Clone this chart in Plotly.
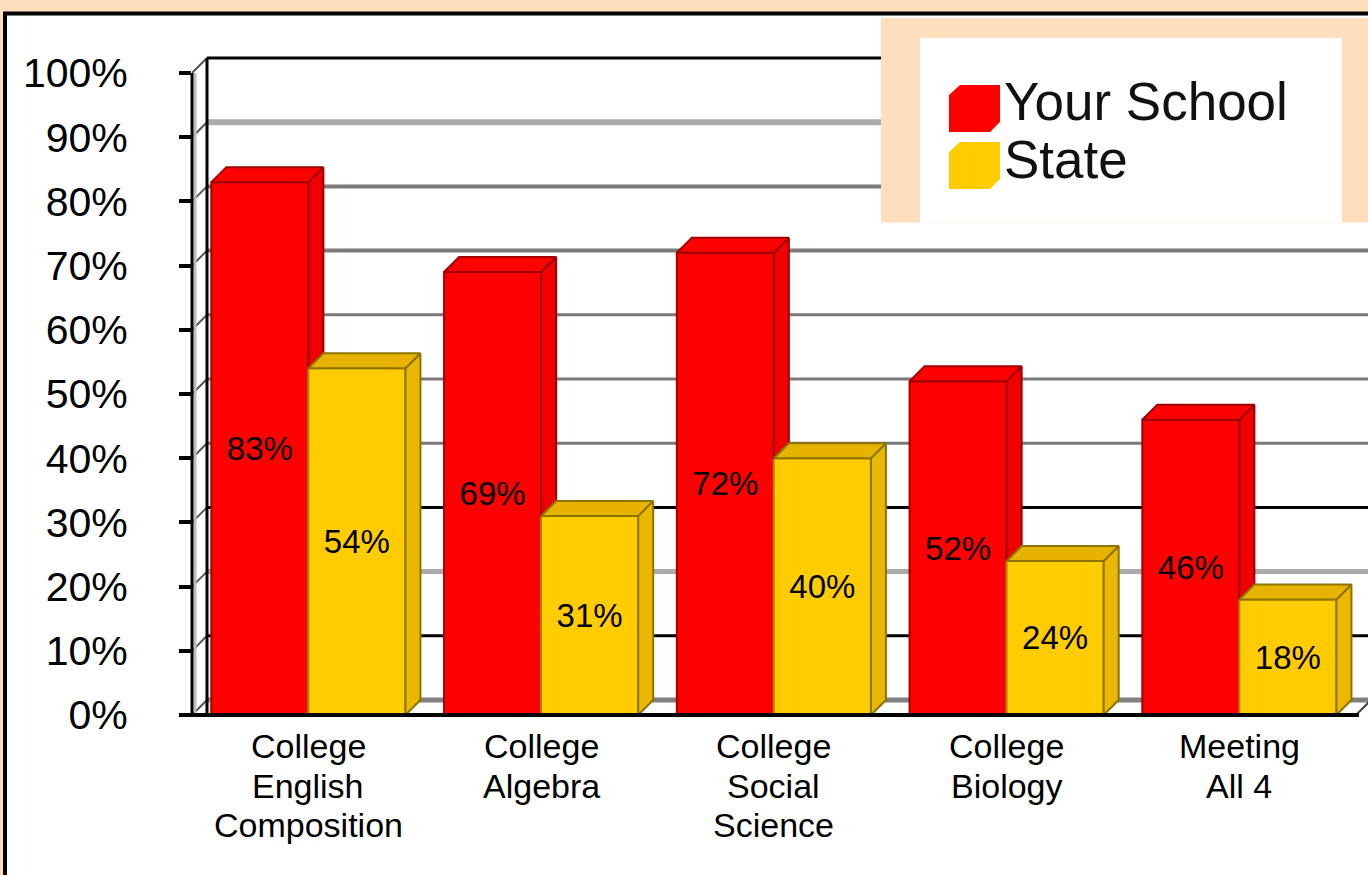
import plotly.graph_objects as go

# ---- data ----
categories = ["College|English|Composition", "College|Algebra", "College|Social|Science", "College|Biology", "Meeting|All 4"]
your_school = [83, 69, 72, 52, 46]
state = [54, 31, 40, 24, 18]
grid_levels = [100, 90, 80, 70, 60, 50, 40, 30, 20, 10, 0]
grid_colors = ["#000000", "#ABABAB", "#7A7A7A", "#7A7A7A", "#7A7A7A", "#7A7A7A", "#7A7A7A", "#000000", "#ABABAB", "#000000", "#808080"]
grid_widths = [3, 6, 4, 4, 3, 3, 3, 3, 5, 3, 5]

# ---- geometry of the page ----
W, H = 1368, 875
AX_L, AX_B, STEP, UNIT = 192, 715, 232.75, 6.42
AX_T = 14
DX = 15 / STEP
DY = 15 / UNIT
BARGAP = 0.166
BW = (1 - BARGAP) / 2
PEACH = "#FFDEBD"
FONT = "Liberation Sans"
xmin = -0.5
xmax = xmin + (W - AX_L) / STEP
ymax = (AX_B - AX_T) / UNIT
n = len(categories)
xs = list(range(n))


def px(x):
    return x / W


def py(y):
    return 1 - y / H


def faces(values, first_edge, lower=None):
    """Top and right faces of the 3D bars, from the values."""
    tx, ty, sx, sy = [], [], [], []
    for i, v in enumerate(values):
        a = i + first_edge
        b = a + BW
        low = lower[i] if lower else 0
        tx += [a, a + DX, b + DX, b, a, None]
        ty += [v, v + DY, v + DY, v, v, None]
        sx += [b, b + DX, b + DX, b, b, None]
        sy += [v, v + DY, low + DY if lower else DY, low, v, None]
    return tx, ty, sx, sy


fig = go.Figure()

fig.add_bar(x=xs, y=your_school, name="Your School",
            marker=dict(color="#FF0000", line=dict(color="#A80000", width=2)),
            text=[f"{v}%" for v in your_school], textposition="inside",
            insidetextanchor="middle", textangle=0,
            textfont=dict(family=FONT, size=33, color="#000000"), hoverinfo="skip")
fig.add_bar(x=xs, y=state, name="State",
            marker=dict(color="#FFCC00", line=dict(color="#B08C00", width=2)),
            text=[f"{v}%" for v in state], textposition="inside",
            insidetextanchor="middle", textangle=0,
            textfont=dict(family=FONT, size=33, color="#000000"), hoverinfo="skip")

rt_x, rt_y, rs_x, rs_y = faces(your_school, -BW, state)
yt_x, yt_y, ys_x, ys_y = faces(state, 0)
for fx, fy, fill, edge in [(rs_x, rs_y, "#F00000", "#A00000"), (rt_x, rt_y, "#FF0000", "#A00000"),
                           (ys_x, ys_y, "#EAB800", "#8F7300"), (yt_x, yt_y, "#E6B400", "#8F7300")]:
    fig.add_scatter(x=fx, y=fy, mode="lines", fill="toself", fillcolor=fill,
                    line=dict(color=edge, width=2), hoverinfo="skip", showlegend=False)

shapes = [dict(type="rect", xref="paper", yref="paper", x0=px(5), x1=px(W + 30), y0=py(13.5), y1=py(H + 30),
               fillcolor="#FFFFFF", line=dict(color="#000000", width=4), layer="below")]

x_end = xmin + (1356 - AX_L) / STEP
for lv, col, wd in zip(grid_levels, grid_colors, grid_widths):
    shapes.append(dict(type="line", xref="x", yref="y", x0=xmin + DX, x1=xmax, y0=lv + DY, y1=lv + DY,
                       line=dict(color=col, width=wd), layer="below"))
    shapes.append(dict(type="line", xref="x", yref="y", x0=xmin, x1=xmin + DX, y0=lv, y1=lv + DY,
                       line=dict(color="#555555", width=2), layer="below"))
# walls
shapes.append(dict(type="line", xref="x", yref="y", x0=xmin + DX, x1=xmin + DX, y0=0, y1=100 + DY,
                   line=dict(color="#000000", width=3), layer="below"))
shapes.append(dict(type="line", xref="x", yref="y", x0=xmin + 3 / STEP, x1=xmin + 3 / STEP, y0=0, y1=100,
                   line=dict(color="#BDBDBD", width=3), layer="below"))
shapes.append(dict(type="line", xref="x", yref="y", x0=xmin + DX + 4 / STEP, x1=xmin + DX + 4 / STEP, y0=0, y1=DY,
                   line=dict(color="#D0D0D0", width=3), layer="below"))
shapes.append(dict(type="line", xref="x", yref="y", x0=x_end, x1=x_end + DX, y0=0, y1=DY,
                   line=dict(color="#444444", width=2), layer="below"))
# front wall edge and base line (page-referenced so that they are not clipped at the plot edge)
shapes.append(dict(type="line", xref="paper", yref="paper", x0=px(AX_L), x1=px(AX_L), y0=py(AX_B), y1=py(AX_B - 100 * UNIT),
                   line=dict(color="#000000", width=3), layer="above"))
shapes.append(dict(type="line", xref="paper", yref="paper", x0=px(AX_L - 12), x1=px(1359), y0=py(AX_B), y1=py(AX_B),
                   line=dict(color="#000000", width=4), layer="above"))
# legend panel
shapes.append(dict(type="rect", xref="paper", yref="paper", x0=px(881), x1=px(W), y0=py(18), y1=py(222.5),
                   fillcolor=PEACH, line_width=0, layer="above"))
shapes.append(dict(type="rect", xref="paper", yref="paper", x0=px(920), x1=px(1342), y0=py(38), y1=py(222.5),
                   fillcolor="#FFFFFF", line_width=0, layer="above"))
for top, col in [(85, "#FF0000"), (142, "#FFCC00")]:
    path = (f"M {px(949)} {py(top + 10)} L {px(960)} {py(top)} L {px(1000)} {py(top)} L {px(1000)} {py(top + 37)} "
            f"L {px(990)} {py(top + 47)} L {px(949)} {py(top + 47)} Z")
    shapes.append(dict(type="path", xref="paper", yref="paper", path=path, fillcolor=col, line_width=0, layer="above"))

annotations = []
for i, cat in enumerate(categories):
    for k, part in enumerate(cat.split("|")):
        annotations.append(dict(x=i, xref="x", y=py(746 + 39.5 * k), yref="paper", text=part, showarrow=False,
                                xanchor="center", yanchor="middle",
                                font=dict(family=FONT, size=34, color="#000000")))
for name, yy in [("Your School", 101), ("State", 159)]:
    annotations.append(dict(x=px(1002), xref="paper", y=py(yy), yref="paper", text=name, showarrow=False,
                            xanchor="left", yanchor="middle",
                            font=dict(family=FONT, size=53, color="#111111")))

fig.update_layout(
    width=W, height=H, margin=dict(l=0, r=0, t=0, b=0, autoexpand=False),
    paper_bgcolor=PEACH, plot_bgcolor="rgba(0,0,0,0)",
    barmode="group", bargap=BARGAP, bargroupgap=0, showlegend=False,
    shapes=shapes, annotations=annotations,
    xaxis=dict(domain=[px(AX_L), 1], range=[xmin, xmax], tickvals=xs, showticklabels=False, automargin=False,
               ticks="", showgrid=False, zeroline=False, showline=False),
    yaxis=dict(domain=[py(AX_B), py(AX_T)], range=[0, ymax], tickvals=grid_levels, automargin=False,
               ticktext=[f"{v}%" for v in grid_levels], showgrid=False, zeroline=False,
               ticks="outside", ticklen=12, tickwidth=4, tickcolor="#000000",
               showline=False,
               ticklabelstandoff=43, tickfont=dict(family=FONT, size=41, color="#000000")),
)

fig.write_html("out.html", config=dict(displayModeBar=False),
               post_script="document.body.style.margin='0';document.body.style.overflow='hidden';document.body.style.background='#FFDEBD';")
